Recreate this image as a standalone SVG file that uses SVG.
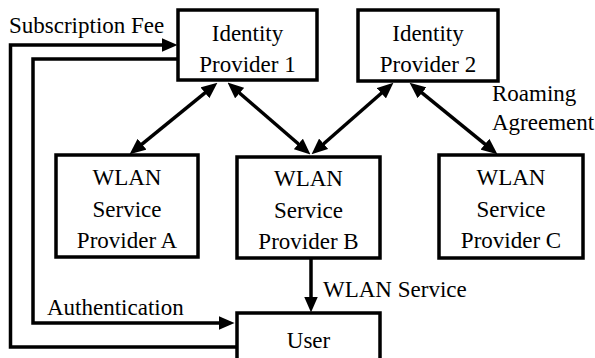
<svg xmlns="http://www.w3.org/2000/svg" width="595" height="358" viewBox="0 0 595 358">
<defs>
<marker id="ah" markerUnits="userSpaceOnUse" markerWidth="16" markerHeight="14" refX="7" refY="6.5" orient="auto-start-reverse" viewBox="0 0 15 13">
<path d="M0,0 L15,6.5 L0,13 z" fill="#000"/>
</marker>
<style>
.box{fill:#fff;stroke:#000;stroke-width:3.5}
.ln{fill:none;stroke:#000;stroke-width:3.5}
.t{font-family:'Liberation Serif','Times New Roman',serif;font-size:23px;fill:#000}
.c{text-anchor:middle}
</style>
</defs>
<rect width="595" height="358" fill="#fff"/>
<g id="connectors">
<path class="ln" d="M237,347 H10.5 V45 H169" marker-end="url(#ah)"/>
<path class="ln" d="M178,59 H33 V323 H226" marker-end="url(#ah)"/>
<path class="ln" d="M311,258 V304" marker-end="url(#ah)"/>
<path class="ln" d="M210.8,88.1 L136.2,148.9" marker-start="url(#ah)" marker-end="url(#ah)"/>
<path class="ln" d="M234,88.2 L304,148.8" marker-start="url(#ah)" marker-end="url(#ah)"/>
<path class="ln" d="M387,88.3 L318,148.7" marker-start="url(#ah)" marker-end="url(#ah)"/>
<path class="ln" d="M416.2,88.1 L490.8,148.9" marker-start="url(#ah)" marker-end="url(#ah)"/>
<text class="t" x="9" y="33">Subscription Fee</text>
<text class="t" x="47" y="315">Authentication</text>
<text class="t" x="323" y="297">WLAN Service</text>
<text class="t" x="492" y="101">Roaming</text>
<text class="t" x="492" y="130">Agreement</text>
</g>
<g id="idp1">
<rect class="box" x="178" y="10" width="139" height="70"/>
<text class="t c" x="247.5" y="41">Identity</text>
<text class="t c" x="247.5" y="72">Provider 1</text>
</g>
<g id="idp2">
<rect class="box" x="358" y="10" width="140" height="71"/>
<text class="t c" x="428" y="41">Identity</text>
<text class="t c" x="428" y="72">Provider 2</text>
</g>
<g id="wlanA">
<rect class="box" x="56" y="155" width="142" height="102"/>
<text class="t c" x="127" y="185">WLAN</text>
<text class="t c" x="127" y="217">Service</text>
<text class="t c" x="127" y="248">Provider A</text>
</g>
<g id="wlanB">
<rect class="box" x="237" y="157" width="143" height="101"/>
<text class="t c" x="308.5" y="186">WLAN</text>
<text class="t c" x="308.5" y="218">Service</text>
<text class="t c" x="308.5" y="249">Provider B</text>
</g>
<g id="wlanC">
<rect class="box" x="439" y="155" width="144" height="103"/>
<text class="t c" x="511" y="185">WLAN</text>
<text class="t c" x="511" y="217">Service</text>
<text class="t c" x="511" y="248">Provider C</text>
</g>
<g id="user">
<rect class="box" x="237" y="313" width="143" height="50"/>
<text class="t c" x="308.5" y="348">User</text>
</g>
</svg>
